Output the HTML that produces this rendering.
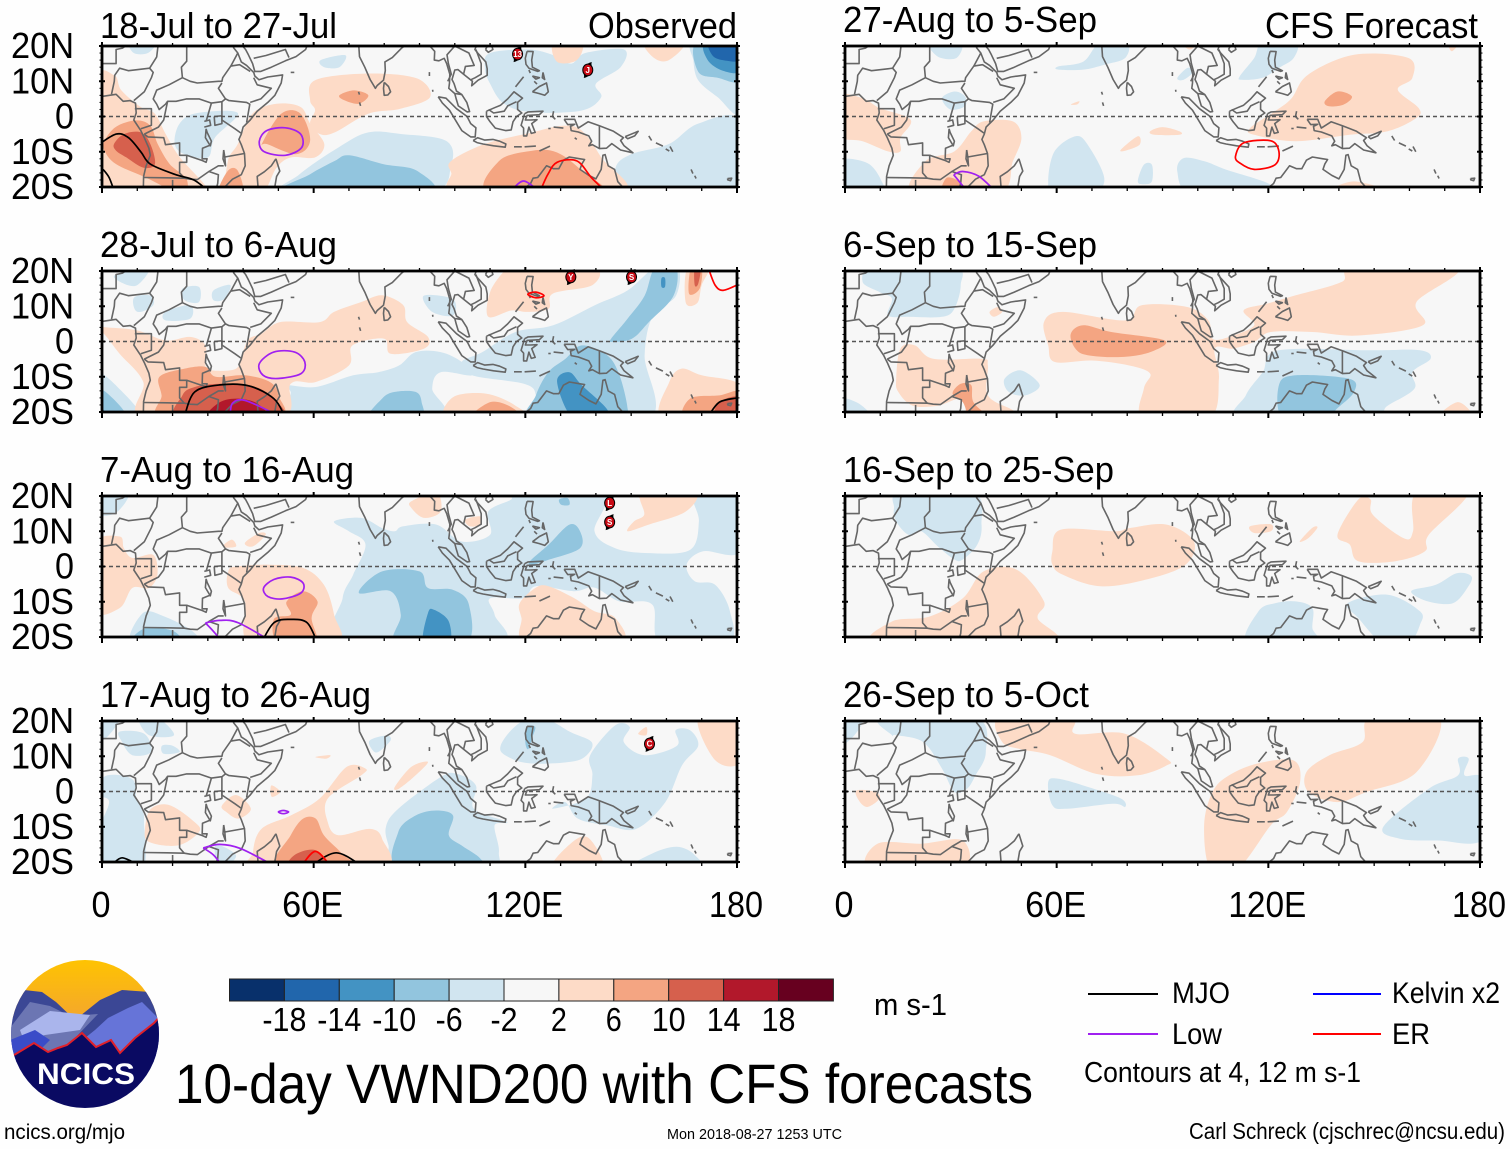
<!DOCTYPE html>
<html lang="en"><head><meta charset="utf-8"><title>10-day VWND200 with CFS forecasts</title>
<style>html,body{margin:0;padding:0;background:#fff}svg{display:block}text{font-family:"Liberation Sans",sans-serif;fill:#000}</style>
</head><body>
<svg id="chart" xmlns="http://www.w3.org/2000/svg" width="1510" height="1149" viewBox="0 0 1510 1149">
<rect x="0" y="0" width="1510" height="1149" fill="#fefefe"/>
<g id="panels"></g>
<g id="colorbar"></g>
<text x="874" y="1015" font-size="31" textLength="73" lengthAdjust="spacingAndGlyphs">m s-1</text>
<g>
<line x1="1088" x2="1158" y1="994" y2="994" stroke="#000" stroke-width="2"/>
<text x="1172" y="1003" font-size="30" textLength="58" lengthAdjust="spacingAndGlyphs">MJO</text>
<line x1="1088" x2="1158" y1="1034" y2="1034" stroke="#a020f0" stroke-width="2"/>
<text x="1172" y="1044" font-size="30" textLength="50" lengthAdjust="spacingAndGlyphs">Low</text>
<line x1="1313" x2="1381" y1="994" y2="994" stroke="#0000ff" stroke-width="2"/>
<text x="1392" y="1003" font-size="30" textLength="108" lengthAdjust="spacingAndGlyphs">Kelvin x2</text>
<line x1="1313" x2="1381" y1="1034" y2="1034" stroke="#ff0000" stroke-width="2"/>
<text x="1392" y="1044" font-size="30" textLength="38" lengthAdjust="spacingAndGlyphs">ER</text>
<text x="1084" y="1082" font-size="29" textLength="277" lengthAdjust="spacingAndGlyphs">Contours at 4, 12 m s-1</text>
</g>
<text x="175" y="1103" font-size="56" textLength="858" lengthAdjust="spacingAndGlyphs">10-day VWND200 with CFS forecasts</text>
<text x="4" y="1139" font-size="21" textLength="121" lengthAdjust="spacingAndGlyphs">ncics.org/mjo</text>
<text x="667" y="1139" font-size="15" textLength="175" lengthAdjust="spacingAndGlyphs">Mon 2018-08-27 1253 UTC</text>
<text x="1189" y="1139" font-size="23" textLength="316" lengthAdjust="spacingAndGlyphs">Carl Schreck (cjschrec@ncsu.edu)</text>
<g>
<defs><clipPath id="logoClip"><circle cx="85" cy="1034" r="74"/></clipPath>
<linearGradient id="sunGrad" x1="0" x2="0" y1="0" y2="1"><stop offset="0" stop-color="#ffc400"/><stop offset="1" stop-color="#f4a72c"/></linearGradient></defs>
<g clip-path="url(#logoClip)">
<rect x="10" y="958" width="150" height="60" fill="url(#sunGrad)"/>
<polygon fill="#3b4795" points="10,1012 24,990 42,992 56,1002 75,1020 100,1000 122,990 150,992 160,1010 160,1062 10,1062"/>
<polygon fill="#6c76b3" points="10,1028 30,1002 50,1006 70,1016 98,1014 52,1062 10,1062"/>
<polygon fill="#aab5ec" points="20,1030 50,1011 90,1015 80,1030 45,1035 24,1041"/>
<polygon fill="#6674d8" points="55,1062 95,1030 108,1018 128,1008 142,1002 160,1020 160,1062"/>
<polygon fill="#3a4cc8" points="10,1040 35,1030 50,1040 28,1062 10,1062"/>
<polygon fill="#0a0a62" stroke="#e0202a" stroke-width="2" points="8,1056 14,1055 34,1043 48,1052 58,1048 67,1045 82,1033 96,1047 111,1040 120,1053 135,1038 154,1023 164,1012 164,1112 8,1112"/>
</g>
<text x="37" y="1084" font-size="30" font-weight="bold" style="fill:#fff" textLength="98" lengthAdjust="spacingAndGlyphs">NCICS</text>
</g>
</svg>
<script>
// ---------- colour scale ----------
const levelBounds = [-18,-14,-10,-6,-2,2,6,10,14,18];
const levelColors = ["#08306b","#2166ac","#4393c3","#92c5de","#d1e5f0","#f7f7f7","#fddbc7","#f4a582","#d6604d","#b2182b","#67001f"];
// ---------- axis ticks ----------
const lonMajor = [0,60,120,180];
const lonMinor = [0,10,20,30,40,50,60,70,80,90,100,110,120,130,140,150,160,170,180];
const latMajor = [20,10,0,-10,-20];
const latMinor = [18,16,14,12,8,6,4,2,-2,-4,-6,-8,-12,-14,-16,-18];
const latLabels = ["20N","10N","0","10S","20S"];
const lonLabels = ["0","60E","120E","180"];
// ---------- filled anomalies: [level (m/s), outline as lon/lat] ----------
const fills1 = [
[-3,[[52,-22],[56,-16.4],[67,-8.8],[75.5,-4.5],[85,-5],[97.5,-6.9],[99,-13.5],[92,-22]]],
[-7,[[51.5,-22],[59,-16.4],[66,-12.6],[70,-11],[79.7,-13.5],[89.3,-15.4],[92,-22]]],
[-3,[[108.5,14],[110,18],[121,19],[128,17.4],[133,15],[137,18],[148,19],[147,14],[140,9.3],[141.5,5.5],[136,1.7],[122,1.2],[114,3.6],[110,9.3]]],
[-3,[[167.6,21],[181,21],[181,1],[174.5,5.5],[169,10.3],[167.6,16]]],
[-7,[[169,12.7],[168.5,21],[181,21],[181,10.3],[174.5,11]]],
[-11,[[171.7,16],[171,21],[181,21],[181,13],[176,13]]],
[-15,[[173,17.4],[172.4,21],[181,21],[181,16],[176,16]]],
[-3,[[147,-22],[145.6,-14.5],[150,-10.7],[160.7,-7.8],[169,-2],[181,-1],[181,-22]]],
[-3,[[20.6,-7.8],[22,-2],[27,1],[38.5,1],[32,-6],[30,-11.6],[23.4,-10.7]]],
[-3,[[62,16],[69,17.4],[67.3,14],[63,14]]],
[-3,[[8,21],[15,21],[13,18],[9,18]]],
[3,[[-2,10],[3.5,11.7],[5.5,7.4],[11,2.7],[15,0.8],[18,-4.9],[22,-11.5],[29,-19.2],[30,-22],[-2,-22]]],
[7,[[0.7,-6.9],[4,-2.9],[9.6,-1.1],[13.7,-2.6],[15.8,-7.8],[19.2,-13.5],[24,-17.8],[22.7,-22],[12.4,-17.3],[4,-13.5],[0.7,-9.7]]],
[11,[[3.4,-7.8],[6.2,-5],[11,-4.5],[13.7,-7.8],[15,-13.5],[11.7,-14.5],[6.9,-11.6],[4,-9.7]]],
[3,[[35.7,-22],[35.7,-12.6],[38.5,-7.8],[42.6,0.8],[49.5,3.6],[56.3,2.7],[59,-2],[63,-7.8],[60.4,-11.6],[53.6,-11.6],[49.5,-14.5],[45,-22]]],
[7,[[45.3,-7.8],[50.8,0.8],[56.3,0.8],[59,-6.9],[55,-10.7],[46.7,-7.8]]],
[7,[[35.7,-15.4],[38.5,-15.4],[39.8,-22],[33,-22]]],
[3,[[59,4.6],[60.4,10.3],[75.5,12.2],[89.3,10.8],[93,5.5],[84.6,2.2],[75.5,0.8],[66,-4.5],[61.8,-5],[59,-2],[60.4,1.8]]],
[7,[[67.3,6],[71.4,7.4],[75.5,6],[72.8,3.6],[68.7,4.6]]],
[3,[[99,-12.6],[108.5,-7.8],[122,-4.5],[130.5,-2.6],[136,-4],[141.5,-11.6],[147,-22],[102,-22],[99,-16]]],
[7,[[110,-22],[112.6,-12.6],[122,-9.7],[129,-10.2],[136,-15.4],[141.5,-22]]],
[3,[[128,21],[136,21],[134.6,16],[129,15.5]]],
[3,[[154,21],[165,21],[160.7,16],[156.6,16.5]]]
];
const fills2 = [
[-3,[[52.3,-12.4],[60.6,-12.9],[71.2,-9.6],[78.3,-8.7],[84.2,-6.8],[88.9,-3],[96,-3],[102,-5.8],[104.9,-9.6],[96,-8.7],[93.6,-13.4],[95.4,-22],[55.8,-22],[53.5,-14.3]]],
[-3,[[102,-5.8],[104.9,-9.6],[119.6,-12],[123,-15.3],[122,-22],[155,-22],[153.8,-4],[156.2,7.4],[162.7,13],[163.3,21],[156.8,21],[149,14.5],[139.7,10.3],[127.9,4.6],[117.2,2.7],[107.8,-3]]],
[-7,[[79.4,-16.2],[83,-14.3],[88.9,-14.3],[90.6,-17.2],[90,-22],[75.9,-22]]],
[-7,[[144.3,0.8],[149,6.5],[153.8,13],[156.8,21],[162.7,21],[162,13],[155,5.5],[150.2,0.8],[144.3,-0.1]]],
[-11,[[158.6,18],[159.6,18],[159.6,15.5],[158.6,15.5]]],
[-7,[[123,-15.3],[126.5,-8.7],[131.4,-4.9],[136,-1.1],[143.2,-3.9],[146.7,-9.6],[149,-19],[147.9,-22],[122,-22]]],
[-11,[[129,-11.5],[132.5,-8.7],[136,-12.4],[143,-19],[143,-22],[133.7,-22]]],
[-3,[[91.2,13],[99.5,12],[99.5,7.4],[93.6,8.4]]],
[-3,[[-2,-9],[5,-13.5],[11,-22],[-2,-22]]],
[-7,[[-2,-13],[3.9,-17],[6.8,-22],[-2,-22]]],
[-11,[[-2,-17],[2,-22],[-2,-22]]],
[-3,[[3.9,19],[13.3,21],[9.8,15.9],[5,17]]],
[-3,[[9.2,12.6],[13.9,13],[14.5,10.3],[11,8.4],[9.2,9.3]]],
[-3,[[18,8.4],[25,10.3],[25,6.5],[18,6]]],
[-3,[[22.8,15],[27.5,15.5],[27.5,11.2],[23.4,11.7]]],
[-3,[[31.6,14.5],[36.4,16],[34.6,12],[31.6,11.7]]],
[3,[[-2,5],[0.4,4.1],[9.8,3.2],[18,0.3],[25,1.3],[29.3,-1.1],[29.3,-6.8],[31,-8.2],[38,-7.7],[39.9,-3],[41.7,0.8],[45.2,2.2],[50.5,5.5],[61.7,5.5],[65.8,8.4],[73.5,11.2],[79.4,13.1],[85.4,10.3],[86.5,5.5],[92.4,1.3],[91.3,-2],[81.8,-3.5],[80,0.8],[71,-1.1],[70,-6.8],[60.6,-11.5],[53.5,-12],[50,-22],[12,-22],[11.7,-11.5],[5,-3.5],[0.4,2.3],[-2,3]]],
[7,[[16.3,-10],[23.4,-7.7],[29.3,-7.2],[32.2,-10],[40.5,-9.6],[47.6,-11.5],[50,-15.3],[49.4,-22],[17.5,-22],[16.9,-15.3]]],
[11,[[22.8,-15.3],[26.3,-12.9],[33.4,-12],[41.7,-12.4],[47.6,-15.3],[50.5,-22],[22.2,-22]]],
[15,[[30.4,-22],[32.8,-17.6],[38,-16.2],[44,-17.6],[46.4,-22]]],
[3,[[109.5,7],[110,14],[114,20],[116,21],[139,21],[139,16],[127.8,13.6],[126.6,9.3],[120.7,8.4],[116,8.8]]],
[3,[[165.5,11],[166,21],[172,21],[170,16],[168.8,11]]],
[7,[[166.4,13.6],[167,21],[170,21],[169.4,15]]],
[11,[[168,16],[168,21],[169.7,21],[169,16.4]]],
[3,[[159,-22],[160.8,-11.5],[164.3,-7.7],[170,-9.6],[181,-12.4],[181,-22]]],
[7,[[165.5,-22],[166.7,-16.2],[175,-15.3],[181,-14.3],[181,-22]]],
[11,[[173.8,-22],[175,-17.2],[181,-15.8],[181,-22]]],
[3,[[98.3,-22],[99.5,-15.8],[109,-14.8],[117.2,-18.2],[120,-22]]],
[7,[[104.8,-22],[110,-17.2],[116,-18.6],[118.3,-22]]]
];
const fills3 = [
[-3,[[68.2,-22],[68.2,-9],[71.2,-2.3],[74.7,6.2],[70,10],[65.8,12.8],[73.5,13.8],[79.4,10.9],[83,10],[85.4,11.4],[94.8,11.9],[101.9,7.1],[110,9],[109.5,15.6],[116,19],[117,21],[142,21],[139.6,10],[145.5,5.2],[154.9,3.8],[166.7,4.7],[169.2,12.8],[168,21],[181,21],[181,4.3],[170.4,4.3],[165.7,0.5],[168,-4.2],[173.8,-5.2],[178,-12.7],[177.5,-22],[158.5,-22],[156,-10.8],[146.7,-9.9],[139.6,-6],[133.7,-7],[123,-5.6],[119.5,-9],[110,-9],[111.3,-13.7],[111.9,-22]]],
[-7,[[72.8,-7.5],[79.4,-1.4],[90,-1.4],[92.4,-6.1],[99.4,-6.6],[104,-10.8],[102.9,-22],[83.5,-22],[84.7,-13.7],[81.8,-7]]],
[-7,[[121.3,1.5],[126.6,6.2],[132.5,11.9],[135.5,10],[135.5,5.2],[126.6,1.9],[122,0.5]]],
[-7,[[129.6,19],[132,19.4],[132.5,17.5],[130.2,17.5]]],
[-11,[[91.2,-22],[92.4,-13.2],[94.2,-12.3],[98.3,-15.6],[98.3,-22]]],
[-3,[[-2,21],[7.4,21],[3.9,15.2],[-2,15]]],
[-3,[[8.6,-22],[11.6,-13.2],[17.5,-14.1],[25.7,-18.4],[26.3,-22]]],
[-7,[[8.6,-22],[12.2,-17.5],[20.4,-18.4],[21.6,-22]]],
[3,[[-2,6.2],[5,8.5],[6.2,5.2],[8.6,2.4],[14.5,3.3],[15.7,-2.3],[13.3,-6.1],[8.6,-6.1],[5,-11.8],[-2,-12.3]]],
[3,[[34.6,6.2],[36.9,7.6],[38,5.7],[35,5.4]]],
[3,[[40.5,6.7],[44.6,9.5],[46.4,9],[42.8,5.7]]],
[3,[[35.8,-1.4],[38,0],[47.6,0.5],[57,-0.4],[62.9,-5.2],[65.8,-13.7],[66.4,-22],[42.2,-22],[40.5,-10],[35.8,-6.1]]],
[7,[[52.3,-10],[57,-7],[61.1,-9.9],[59.4,-14.6],[60.6,-22],[50,-22],[48.7,-15],[53.5,-13.7]]],
[3,[[87.7,18.5],[94.8,21],[96,15.6],[91.3,13.8],[87.7,16.6]]],
[3,[[103,13.3],[107.2,14.2],[107.2,11.9],[104.2,11.4]]],
[3,[[152.5,19],[153,21],[168,21],[165.5,15.6],[155,11.9],[149,10],[150.8,12.8],[153.7,14.7]]],
[3,[[118.4,-10.4],[123,-6],[126.6,-5.6],[133.7,-8.9],[139.6,-12.7],[145.5,-14.6],[146.7,-22],[120.7,-22],[118.9,-14.6]]]
];
const fills4 = [
[-3,[[80.5,-10],[84,-4.9],[96,4.1],[100.6,5],[106,1.7],[105.4,-4.9],[114.8,-8.7],[111.3,-9.6],[112.5,-17.2],[109.7,-22],[83.5,-22],[81.2,-15.3]]],
[-3,[[127.8,-4.9],[137.2,-2],[139,4.6],[138.4,10.3],[145.5,18.8],[149.6,18.3],[147.9,14],[153.8,10.3],[163,13],[162.6,17.4],[166.7,17.4],[169,13],[164.4,7.4],[159.7,-3],[151.4,-10.6],[143.1,-9.6],[134.9,-7.7],[131.3,-3]]],
[-3,[[113,13],[116.4,17.8],[121,20.7],[126.8,20.2],[132.7,16.9],[138.8,14],[137.4,10.3],[132.7,8.4],[121,8],[114.3,10.3]]],
[-7,[[120.5,18.3],[122.8,18.3],[122,15.4],[120.8,12],[120,14]]],
[-3,[[150,-22],[156,-17.6],[163,-15.7],[168,-18],[169,-22]]],
[-3,[[75.9,14.5],[80.6,15.9],[81.8,14.5],[78.3,11.2],[76.5,12]]],
[-3,[[1,4.4],[8.6,3.5],[9.8,-2],[11.6,-5.8],[11.9,-8.7],[11.6,-22],[1.5,-22],[-2,-14],[2,-3],[-2,-1]]],
[-3,[[-2,21],[5,21],[1,15],[-2,15]]],
[-3,[[5,17],[12,16.4],[13.9,11.2],[8.6,10.3],[5.7,14]]],
[-3,[[17,13],[20,13],[22,11.2],[17.5,10.7]]],
[-3,[[10.4,21],[15.7,21],[20.4,16],[13.3,16]]],
[-3,[[32.2,-15.3],[38,-18.2],[33.4,-22]]],
[-7,[[84,-22],[84,-11.5],[88.9,-6.8],[94.8,-5.4],[99.5,-6.8],[98.3,-12.4],[101.9,-15.3],[107.2,-19],[107.2,-22]]],
[3,[[34,-4],[38,-1],[42.2,-4.9],[38.7,-7.7],[35.2,-5.8]]],
[3,[[48,1.7],[50.5,-0.1],[48.1,-1.5]]],
[3,[[12.2,-10.6],[13.9,-4.9],[19.2,-3.9],[26.3,-8.7],[27.5,-11.5],[21.6,-15.3],[13.3,-14.3]]],
[3,[[42.8,-17.2],[45.2,-10.6],[53.5,-6.8],[61.7,-2],[69.4,7],[74.7,6.5],[73.5,4.6],[64,-2],[64,-8.7],[67,-12.4],[75.9,-10.6],[79.4,-13.4],[79.4,-22],[44,-22]]],
[7,[[49.3,-22],[53.5,-12.4],[57,-7.7],[60.6,-7.7],[62.9,-12.4],[67.6,-17.2],[71,-22]]],
[11,[[52.9,-22],[54.6,-18],[60.6,-16.7],[64,-22]]],
[3,[[83,1.3],[87.7,7],[92.4,8.4],[88.9,4.6],[84.2,0.8]]],
[3,[[60.5,9.8],[64.7,10.3],[63.5,9.3]]],
[3,[[152,16.4],[154.3,18.3],[154.3,16]]],
[3,[[169,21],[181,21],[181,8.4],[173.8,8.9]]],
[3,[[127.6,-22],[133.4,-14.3],[138.2,-13.4],[141.7,-22]]]
];
const fills5 = [
[-3,[[24,21],[32.8,21],[31.6,16.6],[26.3,17]]],
[-3,[[60.5,14.2],[67.6,15.6],[72.3,21],[80,21],[79.4,16.6],[73.5,14.7],[67.6,13.3],[60.5,13.3]]],
[-3,[[111.9,11.4],[116,16.6],[118.4,21],[127.8,21],[127.2,16.6],[123,13.8],[118.4,11],[112.5,10.4]]],
[-3,[[94.2,10.9],[97.1,13.8],[98.9,12.8],[96,10.4]]],
[-3,[[27.5,5.2],[31,7.1],[34,5.7],[34,2.9],[29.9,2]]],
[-3,[[57.6,-18.4],[59.4,-9.9],[65.3,-5.6],[68.8,-8],[73.5,-17.5],[70,-22],[59.4,-22]]],
[-3,[[83,-18.4],[84.7,-13.7],[87,-13.7],[87,-18.4],[84.7,-19.2]]],
[-3,[[94.2,-15.6],[96,-11.8],[101.9,-12.7],[107.8,-15],[120.7,-19.4],[116,-22],[98,-22]]],
[-3,[[-2,-12.7],[6.3,-13.2],[10.4,-18.4],[10.4,-22],[-2,-22]]],
[3,[[-2,5.7],[5,5.2],[9.8,2.4],[18.6,-0.9],[15.7,-6.1],[15.7,-9.9],[12.2,-9.9],[5,-7],[-2,-5.2]]],
[3,[[19.2,-22],[22.8,-12.7],[31,-9.9],[35.8,-4.2],[39.3,-1.4],[47.6,-1.4],[50,-6.1],[47.6,-12.7],[43.4,-22]]],
[7,[[27.5,-22],[28.7,-17.5],[32.2,-18.4],[33.4,-22]]],
[3,[[64,3.4],[66.4,4.3],[65.8,3.4]]],
[3,[[78.2,-9.4],[83,-5.6],[83.5,-8],[79.4,-9.7]]],
[3,[[86.5,-4.2],[90,-3],[94.8,-4.2],[94.8,-5.2],[87.7,-5.2]]],
[3,[[114.8,-3.3],[121.9,1.5],[126.6,5.2],[131.3,11.9],[144.3,17.5],[159.7,16.6],[160.8,10.9],[156.7,7.6],[162.6,2.4],[162,-0.4],[153.8,-4.2],[143.1,-5.2],[127.8,-7],[116,-5.2]]],
[7,[[136,4.3],[139.6,7.1],[143.7,5.7],[141.4,3.4],[137.2,2.9]]],
[3,[[137.2,-22],[144.3,-18.4],[155,-22]]],
[3,[[171,21],[174,21],[172,18.5]]],
[3,[[95.4,21],[100,21],[97.7,19]]]
];
const fills6 = [
[-3,[[5,16.9],[8.6,21],[31,21],[32.8,16],[31,9.3],[27.5,7],[18,7],[12.2,7.4],[13.3,12.2],[9.8,14]]],
[-3,[[-2,-16.2],[3.9,-17.6],[7.4,-22],[-2,-22]]],
[-3,[[45.2,-10.6],[49.9,-8.2],[55.2,-12.4],[51.1,-15.3],[46.4,-14.3]]],
[-3,[[118.4,-8.7],[123,-2.5],[149,-2.5],[163,-2.5],[166,-4.9],[160.8,-8.7],[161.4,-13.4],[153.8,-18.2],[147.9,-22],[112.5,-22],[113.6,-15.3]]],
[-7,[[123,-12.4],[127.8,-9.6],[143,-10.6],[144.3,-14.3],[139.5,-19],[136,-22],[124.2,-22]]],
[3,[[56.4,5.5],[61.7,8.4],[79.4,6],[84.1,10.3],[97,9.8],[103,6],[104.2,0.8],[108.9,1.3],[116,4.6],[113,8.8],[119.5,10.7],[127.8,13.1],[140.8,16.9],[144.3,21],[173.8,21],[162,11.2],[163.8,4.6],[145.5,1.7],[132.5,2.7],[120.7,2.7],[116,-0.1],[110,-2],[104.8,-2],[106,-10.6],[103,-22],[84.7,-22],[84.7,-13.4],[86.5,-9.1],[80.6,-6.8],[70,-5.4],[59.4,-5.8],[57.6,-1.1]]],
[7,[[64,2.2],[67.6,4.6],[75.5,2.7],[90.6,0.3],[86.5,-3],[78.3,-4.4],[68.8,-3.9],[65.3,-2]]],
[3,[[14.5,-10.6],[15.7,-2],[19.8,-1.1],[25,-4.9],[38.7,-4.9],[40.5,-6.8],[40.5,-15.3],[47.6,-19.5],[50,-22],[35.8,-22],[33.4,-16.2],[26.3,-18.2],[19.2,-18.2],[15.1,-14.3]]],
[7,[[30.5,-14.8],[32.8,-12],[35.8,-12.4],[36.4,-17.2],[41,-22],[35.8,-22],[33.4,-17.2]]],
[3,[[41,8.4],[43.4,9.8],[44.6,8.4],[42.2,7]]],
[3,[[168,-22],[173.8,-17.2],[178,-22]]]
];
const fills7 = [
[-3,[[13.9,16.6],[15.7,21],[36.4,21],[38.7,12],[37.5,6.2],[33.4,2],[31,2],[26.3,5.7],[21.6,10],[18,9],[14.5,12.8]]],
[-3,[[114.2,-22],[117.2,-12.7],[121.9,-10.4],[127.8,-9.9],[132.5,-11.8],[132.5,-17.5],[133.7,-22]]],
[-3,[[142.5,-10.4],[153.8,-8],[163,-12.7],[163,-16.5],[159.7,-22],[152.6,-22],[145.5,-14.6]]],
[-3,[[160.5,-7],[167.5,-5.2],[173.4,-1.9],[177.6,-2.8],[176.4,-6.1],[172.3,-10.4],[165.2,-9.9]]],
[3,[[58.8,4.3],[61.1,10.4],[76.5,10],[80.6,10.9],[91.2,11.9],[98.9,7.1],[96.5,0.5],[85.4,-3.7],[72.3,-5.6],[61.7,-2.3],[58.8,0.5]]],
[3,[[9.8,-22],[13.3,-15.6],[23.9,-14.2],[33.4,-9],[39.3,-1.4],[48.7,-0.9],[56.4,-9.9],[54.6,-14.6],[58.2,-22]]],
[3,[[114.8,11.4],[120.7,12],[120.7,10],[116,9.5]]],
[3,[[128.9,7.1],[132.5,11],[133.9,11],[131.3,8]]],
[3,[[139.6,9],[145.5,19],[149,19],[149.6,14.7],[158.4,8],[161,10],[162,21],[176.6,21],[165.5,9],[164.4,4.3],[156,1.5],[145.5,1.5],[143.1,6.2]]]
];
const fills8 = [
[-3,[[-2,21],[5,21],[2.7,16],[-2,13]]],
[-3,[[10.4,21],[37,21],[39.9,11.2],[37,4.6],[34.6,0.8],[31,-0.1],[27.5,6.5],[22.2,14],[14.5,16],[13.3,16]]],
[-3,[[57.6,2.7],[60.5,3.6],[68.8,1.3],[78.2,-2],[79.4,-4.4],[75.9,-3.5],[62.9,-4.9],[58.8,-3.9]]],
[-3,[[152.6,-10],[165.5,0.8],[173.8,4.6],[173.8,9.3],[176.8,9.3],[175.6,4.6],[181,3.2],[181,-13.4],[168,-13.9],[157.3,-13.4]]],
[3,[[44,21],[64,21],[65.2,16.4],[79.4,16.4],[91.2,9.3],[91.2,7.4],[83,4.6],[71.2,5],[58.2,10.3],[49.9,12],[44.6,14]]],
[3,[[3.3,0.3],[8.6,-0.1],[9.8,-2],[6.3,-4.4],[3.9,-2.5]]],
[3,[[7.4,-22],[9.2,-14.8],[21.6,-14.8],[33.4,-13.9],[32.8,-22]]],
[3,[[101.8,-9.6],[104.2,-0.1],[108.9,4.6],[117.2,8],[127.2,8.8],[129,2.7],[125.3,-5.8],[120.7,-9.6],[111.3,-22],[103.6,-22]]],
[3,[[130.8,5.5],[137.3,10.3],[146.7,14],[149,21],[168.5,21],[162,5.5],[147.9,-0.1],[139.6,-3],[131.4,-0.1]]]
];
// ---------- wave-filtered contours: [wave type, closed (1/0), outline as lon/lat] ----------
const contours1 = [
["MJO",0,[[-1,-8],[4,-5],[7.5,-6],[11,-10],[13.7,-13.5],[20.6,-16.4],[26,-18],[30,-21]]],
["MJO",0,[[0.3,-15],[2,-17.3],[3.4,-21]]],
["Low",1,[[44.6,-7],[46.7,-4],[52,-3.2],[56.3,-5],[56.6,-8.8],[52,-11],[46,-10]]],
["Low",0,[[116,-21],[119.5,-18.3],[123.6,-21]]],
["ER",0,[[124.3,-21],[126.4,-16.4],[129,-13],[134.6,-12.6],[138.7,-17.3],[142.5,-21]]]
];
const contours2 = [
["MJO",0,[[23.4,-21],[26.3,-14.3],[33.4,-12.3],[41.7,-12.6],[48.7,-16.2],[51.7,-21]]],
["Low",1,[[44.6,-6.3],[48.7,-3],[54.6,-3],[57.5,-5.8],[56.4,-9.1],[49.9,-10.5],[45.7,-9.6]]],
["Low",0,[[36.3,-21],[37,-17.5],[40.5,-16.7],[49,-20.5]]],
["ER",1,[[120.7,13.4],[123,14],[125.3,13],[123,12.4]]],
["ER",0,[[172,20.5],[173.8,16],[176,14.5],[180,16]]],
["MJO",0,[[172,-21],[175,-17.2],[180,-16]]]
];
const contours3 = [
["MJO",0,[[45,-22],[48.7,-16],[53.5,-15],[58.2,-16],[61.2,-22]]],
["Low",0,[[29.3,-16],[33.4,-15.3],[38.7,-16],[49.3,-22]]],
["Low",0,[[29.3,-16],[31.6,-18.4],[34.6,-22]]],
["Low",1,[[45.8,-6.1],[48.7,-3.7],[53.5,-3],[57,-4.7],[56.4,-7.5],[51.1,-9.2],[47,-8.5]]]
];
const contours4 = [
["MJO",0,[[2.7,-21],[5.7,-18.8],[10.4,-21]]],
["MJO",0,[[59.4,-21],[66.4,-17.4],[73.5,-21]]],
["ER",0,[[56.6,-21],[60.5,-17],[64.7,-21]]],
["Low",0,[[28.7,-16],[33.4,-15],[39.3,-16.2],[48.7,-21]]],
["Low",0,[[28.7,-16],[31.6,-18],[34,-21]]],
["Low",1,[[50,-5.8],[51.4,-5.4],[52.9,-5.8],[51.4,-6.3]]]
];
const contours5 = [
["ER",1,[[110.7,-11.3],[113,-7.5],[120.7,-6.9],[123,-9.9],[121.9,-13.7],[116,-15],[111.9,-13.2]]],
["Low",0,[[30.8,-16.5],[33.4,-15.6],[38,-17],[43.4,-22]]],
["Low",0,[[30.8,-16.5],[32.2,-18.2],[35.2,-22]]]
];
const contours6 = [];
const contours7 = [];
const contours8 = [];
// ---------- tropical cyclone markers: [lon, lat, label] ----------
const storms1 = [[117.8,17.7,"13"],[137.7,13.2,"J"]];
const storms2 = [[132.9,18.3,"Y"],[150.1,18.3,"S"]];
const storms3 = [[143.9,18,"L"],[143.9,12.6,"S"]];
const storms4 = [[155.2,13.5,"C"]];
const noStorms = [];
// ---------- coastlines and borders (lon/lat) ----------
const coastlines = [
[[0,5.7],[4,6.3],[6,4.3],[8,4.5],[9.5,3.8],[9.7,1],[9,-1],[11,-4],[12,-6],[13.3,-9],[13.7,-11],[12.5,-14],[11.8,-17],[11.7,-21]],
[[37.2,21],[37.3,19.5],[38.5,18],[39.5,15.5],[41,14.5],[43,12.5],[43.3,11.5],[44.5,10.4],[47,11.2],[51.2,11.8],[50.8,9.5],[49,6],[47,4],[44,1.5],[42,-1],[40,-3],[39.5,-5],[38.8,-6.5],[39.5,-8],[40.4,-10.5],[40.6,-14],[39.5,-16.5],[37,-17.8],[35,-19.8],[34.8,-21]],
[[39,21],[40.7,19],[41.5,17.5],[42.7,15],[43.3,12.8],[45,12.8],[48,14],[52,15.8],[55,17],[57.7,19],[58.5,21]],
[[70.5,21],[72.8,20],[73,17],[74.5,14],[76,10.5],[77.5,8],[78,8.8],[79.8,10.3],[80.3,13],[80.2,15.5],[82.3,16.7],[85,19.5],[87,21]],
[[80,9.7],[81.2,8.5],[81.8,7],[81,6.1],[80,6],[79.8,8],[80,9.7]],
[[92,21],[94.3,18.5],[94.2,16],[95.5,15.8],[97,16.5],[97.7,15],[98.6,12],[98.5,9.5],[98.3,8],[100,6.5],[100.4,5],[101,3],[103.5,1.3],[104.2,1.4],[103.4,4],[102,6.2],[100.5,7.2],[99.8,9.3],[99.2,10.5],[100,13.2],[100.9,13.3],[102.5,12],[105,10],[104.8,8.7],[106.6,10.3],[109.2,11.7],[109.2,13.5],[108.8,15.5],[106.5,18],[105.7,19],[106.5,21]],
[[108.7,19],[109.5,18.2],[110.8,19],[110.5,20],[109.2,19.9],[108.7,19]],
[[120.5,18.5],[122.2,18.4],[121.8,16],[122,14],[124,13],[123.5,12.8],[121,13.7],[120.2,14.8],[120,16.5],[120.5,18.5]],
[[122,7],[124,8.5],[126,9.5],[126.5,7],[125.5,6],[124,6.5],[122,7]],
[[117.2,8.4],[119.5,11.3]],[[122,11.5],[123,10.6],[124,11],[122,11.5]],[[125,12.5],[125.5,10.5],[124.8,11],[125,12.5]],[[121,13.2],[121.4,12.3]],[[122.5,10],[123.3,9.2]],
[[95.3,5.6],[97.5,5.2],[100.5,2.2],[103.5,0],[104.5,-2],[106,-3.2],[105.8,-5.8],[104.5,-5.8],[102,-4],[100.3,-1.2],[98.5,1.8],[96.5,3.8],[95.3,5.6]],
[[105.2,-6.8],[106.5,-6],[108.5,-6.7],[110.8,-6.5],[112.7,-7],[114.5,-7.8],[114.3,-8.7],[111,-8.3],[108,-7.8],[106.3,-7.4],[105.2,-6.8]],
[[109,1.5],[111.3,2.5],[113,3.2],[115,5],[116.8,7],[119.2,5.2],[117.8,4],[117.8,2],[119,1],[117.5,0],[116.5,-1.5],[116,-3.8],[114.5,-4],[111.5,-3.3],[110,-1.5],[109,0],[109,1.5]],
[[119.8,0.8],[120.8,1.3],[125,1.5],[124,0.5],[120.5,0.3],[120,-1],[121.5,-1],[123.3,-0.9],[121.8,-2],[122.8,-4.5],[121.7,-4.8],[121,-3],[120.4,-5.5],[119.5,-5.5],[119.5,-3.3],[118.8,-2.5],[119.8,0.8]],
[[131,-0.8],[134,-0.8],[135,-3.3],[137.8,-1.5],[141,-2.6],[145,-4.2],[147.8,-6],[147,-6.8],[148,-8.3],[150.5,-10.3],[147,-9.5],[144.5,-7.7],[143,-9],[141,-9.1],[139,-8],[138,-8.3],[138.8,-7],[138,-5.5],[135,-4.4],[133,-4],[132.8,-2.8],[134,-2.2],[132,-2.3],[131,-0.8]],
[[119,-21],[121.5,-19],[122.2,-17.5],[123.5,-17.3],[124.5,-16],[126,-14],[128,-14.8],[129.5,-14.8],[130.8,-12.4],[132.5,-11.5],[135.5,-12],[136.8,-12.2],[136,-13.5],[135.5,-15],[138,-16.7],[140,-17.7],[141.5,-15],[142,-11],[142.6,-10.8],[143.5,-14],[145.3,-15],[146.2,-18.5],[148.5,-21]],
[[49.3,-12],[50.4,-15.5],[49.5,-17],[48.8,-21]],[[44.3,-21],[44,-17],[46,-15.7],[48,-14],[49.3,-12]],
[[148.3,-5.7],[152,-4.2],[151,-5.5],[149,-6.3],[148.3,-5.7]],[[155,-5.5],[155.8,-6.8]],[[157,-7.5],[159,-8.4]],[[159.8,-9.2],[160.8,-9.8]],[[161,-8.5],[161.8,-10]],
[[167,-15],[167.5,-16.2]],[[168,-16.8],[168.4,-17.6]],[[177.3,-17.6],[178.5,-17.5],[178.2,-18.2],[177.4,-18],[177.3,-17.6]],
[[124,-9.8],[127,-8.4]],[[119.8,-8.6],[123,-8.4]],[[116.8,-8.6],[119,-8.6]],[[128,1.5],[127.7,0],[128.5,-0.8]],[[128,-3],[130.8,-3.3]],[[126.5,-3.4],[127.2,-3.4]],[[134,-6],[134.6,-6.5]],[[53.5,12.5],[54.5,12.5]],[[92.8,12.6],[92.8,11.5]],[[93.7,7.6],[93.8,7]],[[73,4],[73.3,3]],[[72.7,7],[73,6.2]],
[[2.7,6.3],[3.5,10],[3.6,11.7],[5,13.7],[7.5,13],[13.5,13.7],[14.5,12.5],[14,11],[12,7],[9,4.5]],
[[0,15],[4,15],[4,19],[5.8,19.4],[8,21]],
[[16,21],[15.5,16.9],[13.5,13.7]],
[[24,21],[24,15.7],[22.5,14],[22.8,11],[19,9],[15.5,7.5],[14.5,5],[15.5,3.5],[16.2,2],[18,3.5],[18.6,4.3],[21,4.3],[24,5],[27.5,5],[31,3.8],[34,4.2],[35,5],[36,4.5],[41,4],[41.9,3.5],[41,-1.7]],
[[22.8,11],[25,10],[27,9.5],[33,10],[34,10],[34.2,11],[36.5,14.3],[38.5,18]],
[[43,11],[44,9],[48,8],[45,5],[42,4]],[[34,9.5],[33,8],[35,5]],[[36.5,14.3],[39,14.7],[42,12.8]],
[[12,-5],[13,-5.8],[17.5,-6],[18,-8],[22,-7.5],[22,-11],[24,-11],[24,-13],[22,-13],[22,-16],[23.3,-17.5]],
[[11.8,-17.3],[18.5,-17.4],[23.3,-17.5],[25,-17.8],[27,-17.9],[30.3,-15.6],[33,-16.5],[32.8,-19],[32.2,-21]],
[[24,-11],[28.5,-12.5],[29.5,-13],[29.8,-12],[28.4,-12],[28.5,-9],[30.5,-8.2]],
[[34,4.2],[34,1],[34,-1],[37.7,-3.5],[39.4,-4.7]],[[34.8,-11.5],[40.4,-10.5]],[[30.3,-15.6],[33,-14],[34.5,-14]],
[[20,-18],[20,-22]],[[9.3,2.2],[11.3,2.2],[14,2.2],[14,-2.5],[11,-3.5]],[[29,-1.4],[30.5,-1],[30.8,-2.5],[29,-3]],
[[31,3.8],[29.5,-1.4]],[[18.6,4.3],[17.5,-1],[16,-3],[12,-5]],
[[29.5,-3.5],[29.3,-6],[30.7,-8.3],[31,-7],[29.8,-4.5],[29.5,-3.5]],[[34.5,-9.5],[34.3,-12],[35,-14],[34.8,-11.5],[34.5,-9.5]],[[31.8,0],[34,0.2],[34,-2],[32,-2.5],[31.8,0]],
[[43,16.5],[46.5,17.3],[52,19],[53,16.7]],
[[98,10],[99,12],[98.2,15],[97.8,17.5],[100,20]],[[100,20],[104,18],[105.5,14.5],[103,14.2],[102.5,12]],[[106,19],[107.5,15],[107.5,12],[105.8,11],[104.5,10.4]],[[100.2,6.5],[102,6.2]],
[[109.6,2],[111,1],[114,1.5],[115,3],[117.5,4.2]],[[141,-2.6],[141,-9.1]]
];
// ---------- renderer ----------
const NS = "http://www.w3.org/2000/svg";
const root = document.getElementById("panels");
const PW = 635, PH = 141, LAT_MAX = 20, LON_MAX = 180;
function mk(tag, attrs, parent){
  const el = document.createElementNS(NS, tag);
  for (const k in attrs) el.setAttribute(k, attrs[k]);
  parent.appendChild(el);
  return el;
}
function smooth(pts, closed){
  const n = pts.length;
  const at = i => closed ? pts[(i+n)%n] : pts[Math.max(0,Math.min(n-1,i))];
  let d = "M"+pts[0][0].toFixed(1)+" "+pts[0][1].toFixed(1);
  const end = closed ? n : n-1;
  for (let i=0;i<end;i++){
    const p0=at(i-1),p1=at(i),p2=at(i+1),p3=at(i+2);
    d+="C"+(p1[0]+(p2[0]-p0[0])/6).toFixed(1)+" "+(p1[1]+(p2[1]-p0[1])/6).toFixed(1)+" "+(p2[0]-(p3[0]-p1[0])/6).toFixed(1)+" "+(p2[1]-(p3[1]-p1[1])/6).toFixed(1)+" "+p2[0].toFixed(1)+" "+p2[1].toFixed(1);
  }
  return closed ? d+"Z" : d;
}
function colorFor(v){
  let i = 0;
  while (i < levelBounds.length && v > levelBounds[i]) i++;
  return levelColors[i];
}
const waveColor = {MJO:"#000000", Low:"#a020f0", ER:"#ff0000", Kelvin:"#0000ff"};
const panels = [
 {id:1,x0:102,top:46,title:"18-Jul to 27-Jul",tw:237,ty:38,fills:fills1,contours:contours1,storms:storms1,yl:true},
 {id:2,x0:102,top:271,title:"28-Jul to 6-Aug",tw:237,ty:257,fills:fills2,contours:contours2,storms:storms2,yl:true},
 {id:3,x0:102,top:496,title:"7-Aug to 16-Aug",tw:254,ty:482,fills:fills3,contours:contours3,storms:storms3,yl:true},
 {id:4,x0:102,top:721,title:"17-Aug to 26-Aug",tw:271,ty:707,fills:fills4,contours:contours4,storms:storms4,yl:true,xl:true},
 {id:5,x0:845,top:46,title:"27-Aug to 5-Sep",tw:254,ty:32,fills:fills5,contours:contours5,storms:noStorms},
 {id:6,x0:845,top:271,title:"6-Sep to 15-Sep",tw:254,ty:257,fills:fills6,contours:contours6,storms:noStorms},
 {id:7,x0:845,top:496,title:"16-Sep to 25-Sep",tw:271,ty:482,fills:fills7,contours:contours7,storms:noStorms},
 {id:8,x0:845,top:721,title:"26-Sep to 5-Oct",tw:246,ty:707,fills:fills8,contours:contours8,storms:noStorms,xl:true}
];
function label(parent, str, x, y, size, width, anchor){
  const t = mk("text",{x:x,y:y,"font-size":size,"text-anchor":anchor||"start",textLength:width,lengthAdjust:"spacingAndGlyphs"},parent);
  t.textContent = str;
  return t;
}
panels.forEach(function(p){
  const xS = lon => p.x0 + lon/LON_MAX*PW;
  const yS = lat => p.top + (LAT_MAX-lat)/(2*LAT_MAX)*PH;
  const g = mk("g",{},root);
  
  
  const defs = mk("defs",{},g);
  const cp = mk("clipPath",{id:"clip"+p.id},defs);
  mk("rect",{x:p.x0,y:p.top,width:PW,height:PH},cp);
  const bg = mk("rect",{x:p.x0,y:p.top,width:PW,height:PH,fill:"#f7f7f7"},g);
  
  
  const clip = mk("g",{"clip-path":"url(#clip"+p.id+")"},g);
  p.fills.forEach(function(f){
    const pts = f[1].map(q=>[xS(q[0]),yS(q[1])]);
    const a = mk("path",{d:smooth(pts,true),fill:colorFor(f[0])},clip);
    
    
  });
  coastlines.forEach(function(c){
    const l = mk("polyline",{points:c.map(q=>xS(q[0]).toFixed(1)+","+yS(q[1]).toFixed(1)).join(" "),fill:"none",stroke:"#666","stroke-width":1.6,"stroke-linejoin":"round"},clip);
    
    
  });
  const eq = mk("line",{x1:xS(0),x2:xS(LON_MAX),y1:yS(0),y2:yS(0),stroke:"#555","stroke-width":1.4,"stroke-dasharray":"4 3"},clip);
  
  
  p.contours.forEach(function(c){
    const pts = c[2].map(q=>[xS(q[0]),yS(q[1])]);
    const e = mk("path",{d:smooth(pts,!!c[1]),fill:"none",stroke:waveColor[c[0]],"stroke-width":1.7},clip);
    
    
  });
  p.storms.forEach(function(s){
    const cx=xS(s[0]), cy=yS(s[1]);
    const st = mk("g",{},g);
    
    
    mk("path",{d:"M"+(cx-3)+" "+(cy-3)+"Q"+(cx-1)+" "+(cy-7)+" "+(cx+4)+" "+(cy-8)+"Q"+(cx+3)+" "+(cy-5)+" "+(cx+5)+" "+(cy-2)+"L"+(cx+3)+" "+(cy+3)+"Q"+(cx+1)+" "+(cy+7)+" "+(cx-4)+" "+(cy+8)+"Q"+(cx-3)+" "+(cy+5)+" "+(cx-5)+" "+(cy+2)+"Z",fill:"#000"},st);
    mk("ellipse",{cx:cx,cy:cy,rx:5,ry:5.8,fill:"#c80a14",stroke:"#000","stroke-width":1},st);
    const tx = mk("text",{x:cx,y:cy+2.8,"font-size":8,"font-weight":"bold","text-anchor":"middle",style:"fill:#fff"},st);
    tx.textContent = s[2];
  });
  const fr = mk("rect",{x:p.x0,y:p.top,width:PW,height:PH,fill:"none",stroke:"#000","stroke-width":2.8},g);
  
  
  const tk = mk("g",{stroke:"#000"},g);
  
  
  lonMinor.forEach(function(v){
    mk("line",{x1:xS(v),x2:xS(v),y1:yS(-20),y2:yS(-20)+4,"stroke-width":1.3},tk);
    mk("line",{x1:xS(v),x2:xS(v),y1:yS(20),y2:yS(20)-3,"stroke-width":1.3},tk);
  });
  lonMajor.forEach(function(v){
    mk("line",{x1:xS(v),x2:xS(v),y1:yS(-20),y2:yS(-20)+6,"stroke-width":2},tk);
    mk("line",{x1:xS(v),x2:xS(v),y1:yS(20),y2:yS(20)-4,"stroke-width":2},tk);
  });
  latMinor.forEach(function(v){
    mk("line",{x1:xS(0)-2.5,x2:xS(0),y1:yS(v),y2:yS(v),"stroke-width":1},tk);
    mk("line",{x1:xS(180),x2:xS(180)+2.5,y1:yS(v),y2:yS(v),"stroke-width":1},tk);
  });
  latMajor.forEach(function(v){
    mk("line",{x1:xS(0)-3,x2:xS(0)+3,y1:yS(v),y2:yS(v),"stroke-width":2},tk);
    mk("line",{x1:xS(180)-3,x2:xS(180)+3,y1:yS(v),y2:yS(v),"stroke-width":2},tk);
  });
  const tt = label(g,p.title,p.x0-2,p.ty,36,p.tw);
  
  
  if (p.yl) latMajor.forEach(function(v,i){
    const str = latLabels[i];
    const yl = label(g,str,74,yS(v)+12,36,str.length===1?19:63,"end");
    
    
  });
  if (p.xl) lonMajor.forEach(function(v,i){
    const str = lonLabels[i];
    const wd = {"0":19,"60E":61,"120E":78,"180":54}[str];
    const xl = label(g,str,xS(v)-1,917,36,wd,"middle");
    
    
  });
});
const obsLabel = label(root,"Observed",737,38,36,149,"end");


const cfsLabel = label(root,"CFS Forecast",1478,38,36,213,"end");


// colour bar
const cb = document.getElementById("colorbar");
const cbX = i => 229.5 + i*54.9;
levelColors.forEach(function(c,i){
  const r = mk("rect",{x:cbX(i),y:979,width:54.9,height:22,fill:c,stroke:"#222","stroke-width":1},cb);
  
  
});
levelBounds.forEach(function(v,i){
  const s = String(v);
  const w = s.length===3 ? 44 : (s.charAt(0)==="-" ? 27 : (s.length===2 ? 34 : 16));
  const t = mk("text",{x:cbX(i+1),y:1031,"font-size":33,"text-anchor":"middle",textLength:w,lengthAdjust:"spacingAndGlyphs"},cb);
  
  
  t.textContent = s;
});
</script>
</body></html>
